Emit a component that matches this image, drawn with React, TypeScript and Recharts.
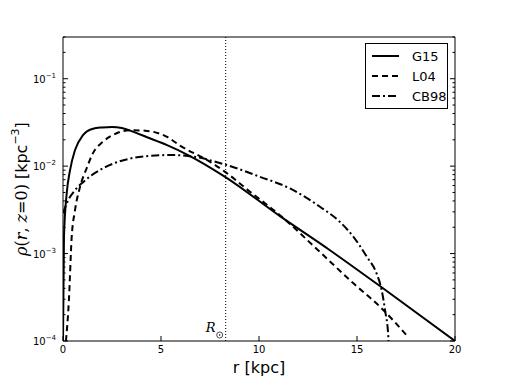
import React from "react";
import {
  LineChart,
  Line,
  XAxis,
  YAxis,
  ReferenceLine,
  Legend,
  Label,
} from "recharts";

// values (r in kpc, rho in kpc^-3)
const g15R = [0, 0.05, 0.19, 0.36, 0.61, 1.02, 1.53, 2.0, 2.5, 3.0, 3.42, 4.29, 5.31, 6.38, 8.27, 11.07, 13.6, 16.17, 20];
const g15Rho = [1e-4, 1.55e-3, 4.9e-3, 9.0e-3, 0.0152, 0.0226, 0.0268, 0.0277, 0.0281, 0.0273, 0.0255, 0.0214, 0.0174, 0.0134, 7.55e-3, 2.68e-3, 1.1e-3, 4.25e-4, 1.0e-4];

const l04R = [0.15, 0.3, 0.44, 0.61, 0.87, 1.21, 1.53, 2.04, 2.74, 3.42, 4.29, 5.31, 5.97, 7.5, 8.27, 9.54, 11.07, 13.0, 14.8, 16.17, 17.6];
const l04Rho = [1e-4, 2.9e-4, 1.5e-3, 3.1e-3, 5.8e-3, 9.5e-3, 0.0141, 0.019, 0.0238, 0.0258, 0.0253, 0.0216, 0.0172, 0.0112, 8.6e-3, 5.1e-3, 2.75e-3, 1.1e-3, 4.6e-4, 2.47e-4, 1.12e-4];

const cb98R = [0, 0.27, 0.61, 1.04, 1.72, 2.57, 3.42, 4.44, 5.46, 6.38, 8.35, 10.05, 11.58, 13.11, 14.13, 14.81, 15.5, 16.0, 16.26, 16.43, 16.6, 16.65];
const cb98Rho = [2.9e-3, 4.1e-3, 5.3e-3, 6.6e-3, 8.6e-3, 0.0107, 0.0122, 0.0131, 0.0134, 0.0131, 0.0103, 7.55e-3, 5.56e-3, 3.43e-3, 2.3e-3, 1.56e-3, 9.2e-4, 5.9e-4, 3.8e-4, 2.26e-4, 1.1e-4, 5e-5];

const xTicks = [0, 5, 10, 15, 20];
const yDecades = [1e-4, 1e-3, 1e-2, 1e-1];
const yMinorSteps = [2, 3, 4, 5, 6, 7, 8, 9];
const rSun = 8.3;

const series = [
  { name: "G15", r: g15R, rho: g15Rho, dash: undefined },
  { name: "L04", r: l04R, rho: l04Rho, dash: "6 4" },
  { name: "CB98", r: cb98R, rho: cb98Rho, dash: "8 3 2 3" },
];

const W = 506;
const H = 379;
const PL = 63;
const PR = 455;
const PT = 37;
const PB = 341;

const yTicks: number[] = [];
yDecades.forEach((d) => {
  yTicks.push(d);
  yMinorSteps.forEach((m) => {
    if (d * m <= 0.3 + 1e-9) yTicks.push(d * m);
  });
});

const isDecade = (v: number) => Math.abs(Math.log10(v) - Math.round(Math.log10(v))) < 1e-6;

function LeftTick({ y, payload }: any) {
  const v = payload.value;
  const major = isDecade(v);
  return (
    <g>
      <line x1={PL} x2={PL + (major ? 5 : 2.5)} y1={y} y2={y} stroke="#000" strokeWidth={1} />
      {major && (
        <text x={56} y={y + 4} textAnchor="end" fontSize={10} fontFamily="DejaVu Sans" fill="#000">
          10
          <tspan dy={-5} fontSize={7}>
            {"\u2212" + Math.abs(Math.round(Math.log10(v)))}
          </tspan>
        </text>
      )}
    </g>
  );
}

function RightTick({ y, payload }: any) {
  const major = isDecade(payload.value);
  return <line x1={PR - (major ? 5 : 2.5)} x2={PR} y1={y} y2={y} stroke="#000" strokeWidth={1} />;
}

function BottomTick({ x, payload }: any) {
  return (
    <g>
      <line x1={x} x2={x} y1={PB} y2={PB - 5} stroke="#000" strokeWidth={1} />
      <text x={x} y={PB + 12} textAnchor="middle" fontSize={10} fontFamily="DejaVu Sans" fill="#000">
        {payload.value}
      </text>
    </g>
  );
}

function TopTick({ x }: any) {
  return <line x1={x} x2={x} y1={PT} y2={PT + 5} stroke="#000" strokeWidth={1} />;
}

function LegendBox() {
  return (
    <div
      style={{
        border: "1px solid #000",
        background: "#fff",
        width: 83,
        padding: "2px 0",
        boxSizing: "border-box",
        fontFamily: "DejaVu Sans",
        fontSize: 13,
      }}
    >
      {series.map((s) => (
        <div key={s.name} style={{ display: "flex", alignItems: "center", height: 20 }}>
          <svg width={46} height={20}>
            <line x1={6} x2={33} y1={10} y2={10} stroke="#000" strokeWidth={2} strokeDasharray={s.dash} />
          </svg>
          <span>{s.name}</span>
        </div>
      ))}
    </div>
  );
}

function SunLabel({ viewBox }: any) {
  const x = viewBox.x;
  return (
    <g fill="#000">
      <text x={x - 20} y={PB - 9} fontSize={13} fontStyle="italic" fontFamily="DejaVu Serif">
        R
      </text>
      <circle cx={x - 6} cy={PB - 6} r={3} fill="none" stroke="#000" strokeWidth={0.7} />
      <circle cx={x - 6} cy={PB - 6} r={0.8} />
    </g>
  );
}

function YLabel() {
  return (
    <text
      transform={`translate(22, ${(PT + PB) / 2}) rotate(-90)`}
      textAnchor="middle"
      fontSize={16}
      fill="#000"
      dominantBaseline="middle"
    >
      <tspan fontFamily="DejaVu Serif" fontStyle="italic">ρ</tspan>
      <tspan fontFamily="DejaVu Serif">(</tspan>
      <tspan fontFamily="DejaVu Serif" fontStyle="italic">r</tspan>
      <tspan fontFamily="DejaVu Serif">, </tspan>
      <tspan fontFamily="DejaVu Serif" fontStyle="italic">z</tspan>
      <tspan fontFamily="DejaVu Serif">=0)</tspan>
      <tspan fontFamily="DejaVu Sans"> [kpc</tspan>
      <tspan fontFamily="DejaVu Sans" fontSize={11} dy={-6}>{"\u22123"}</tspan>
      <tspan fontFamily="DejaVu Sans" dy={6}>]</tspan>
    </text>
  );
}

export default function App() {
  return (
    <div style={{ position: "absolute", left: 0, top: 0, width: W, height: H, background: "#fff" }}>
      <LineChart
        width={W}
        height={H}
        margin={{ top: PT - 1, right: W - PR - 1, bottom: 8, left: 0 }}
      >
        <XAxis
          xAxisId="b"
          type="number"
          dataKey="r"
          domain={[0, 20]}
          ticks={xTicks}
          interval={0}
          height={H - PB - 8}
          axisLine={{ stroke: "#000", strokeWidth: 1 }}
          tickLine={false}
          tick={<BottomTick />}
          allowDataOverflow
        >
          <Label
            content={() => (
              <text x={(PL + PR) / 2} y={373} textAnchor="middle" fontSize={16} fontFamily="DejaVu Sans" fill="#000">
                r [kpc]
              </text>
            )}
          />
        </XAxis>
        <XAxis
          xAxisId="t"
          orientation="top"
          type="number"
          domain={[0, 20]}
          ticks={xTicks}
          interval={0}
          height={1}
          axisLine={{ stroke: "#000", strokeWidth: 1 }}
          tickLine={false}
          tick={<TopTick />}
          allowDataOverflow
        />
        <YAxis
          yAxisId="l"
          scale="log"
          domain={[1e-4, 0.3]}
          ticks={yTicks}
          interval={0}
          width={PL}
          axisLine={{ stroke: "#000", strokeWidth: 1 }}
          tickLine={false}
          tick={<LeftTick />}
          allowDataOverflow
        >
          <Label content={() => <YLabel />} />
        </YAxis>
        <YAxis
          yAxisId="r"
          orientation="right"
          scale="log"
          domain={[1e-4, 0.3]}
          ticks={yTicks}
          interval={0}
          width={1}
          axisLine={{ stroke: "#000", strokeWidth: 1 }}
          tickLine={false}
          tick={<RightTick />}
          allowDataOverflow
        />
        <ReferenceLine
          x={rSun}
          xAxisId="b"
          yAxisId="l"
          stroke="#000"
          strokeWidth={1}
          strokeDasharray="1 2"
          label={<SunLabel />}
        />
        {series.map((s) => (
          <Line
            key={s.name}
            xAxisId="b"
            yAxisId="l"
            data={s.r.map((r, i) => ({ r, rho: s.rho[i] }))}
            dataKey="rho"
            name={s.name}
            type="monotone"
            stroke="#000"
            strokeWidth={2}
            strokeDasharray={s.dash}
            dot={false}
            activeDot={false}
            isAnimationActive={false}
          />
        ))}
        <Legend
          layout="horizontal"
          verticalAlign="middle"
          align="center"
          wrapperStyle={{ left: 365, top: 43, width: 83 }}
          content={() => <LegendBox />}
        />
      </LineChart>
    </div>
  );
}
